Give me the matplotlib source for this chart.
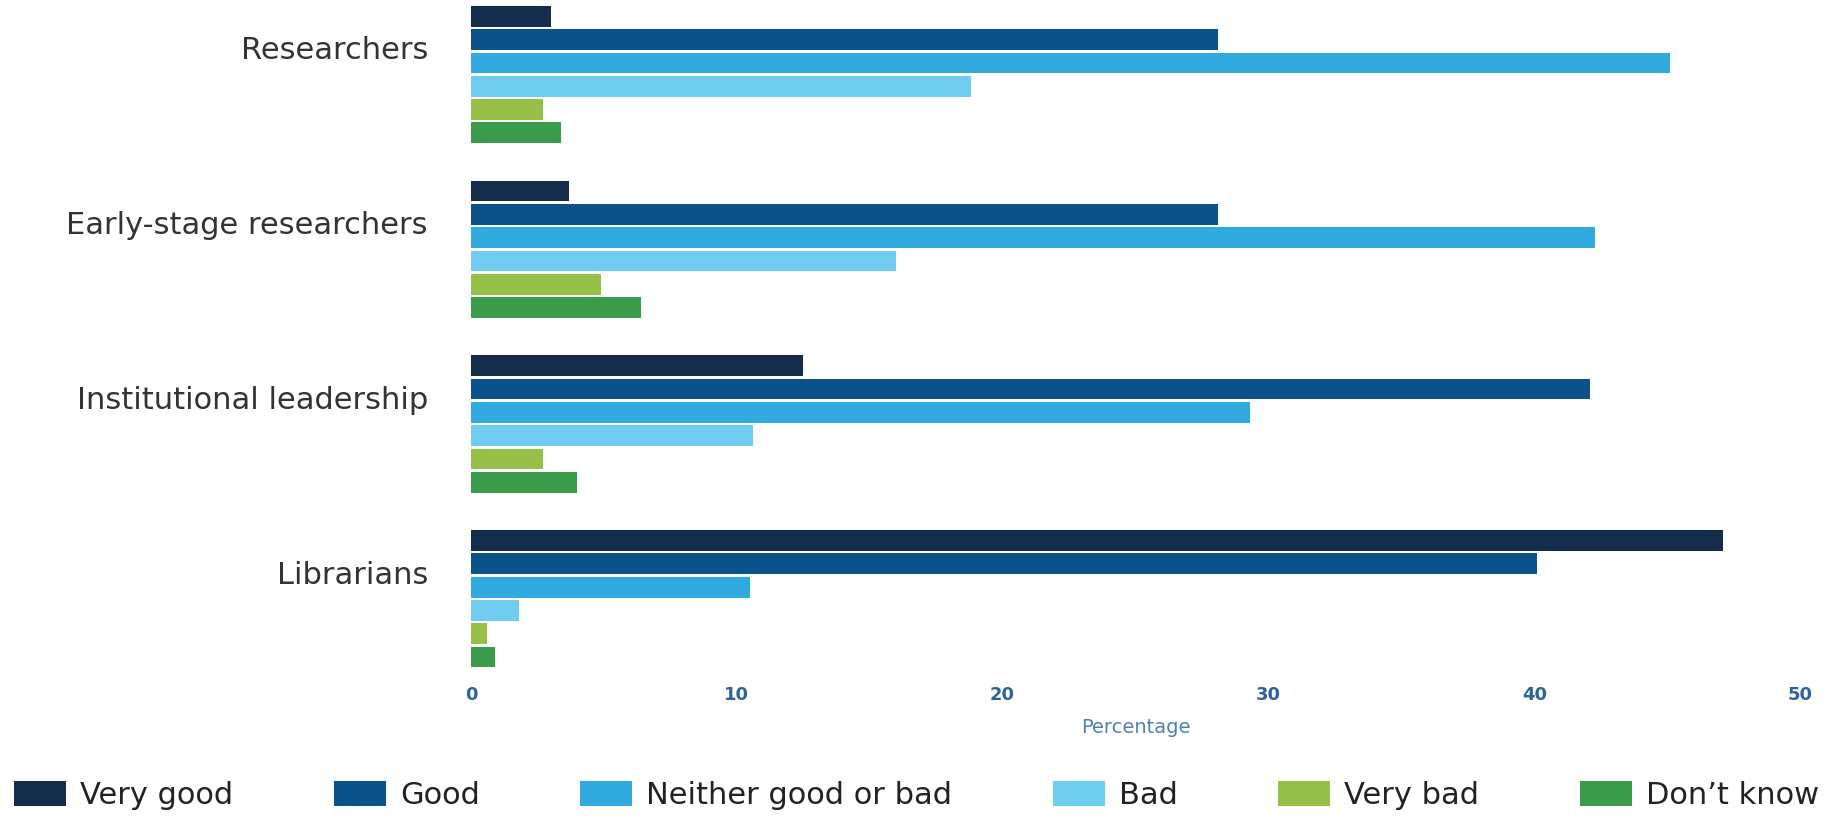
import numpy as np
import matplotlib
matplotlib.use("Agg")
import matplotlib.pyplot as plt

groups = ["Researchers", "Early-stage researchers", "Institutional leadership", "Librarians"]
series = ["Very good", "Good", "Neither good or bad", "Bad", "Very bad", "Don\u2019t know"]
colors = ["#142d4c", "#0b528b", "#31aadf", "#70cdf1", "#95bf47", "#3a9c4b"]

very_good = [3.0, 3.7, 12.5, 47.1]
good = [28.1, 28.1, 42.1, 40.1]
neither = [45.1, 42.3, 29.3, 10.5]
bad = [18.8, 16.0, 10.6, 1.8]
very_bad = [2.7, 4.9, 2.7, 0.6]
dont_know = [3.4, 6.4, 4.0, 0.9]

values = [very_good, good, neither, bad, very_bad, dont_know]

plt.rcParams["font.family"] = ["DejaVu Sans"]

W, H = 1842, 817
fig = plt.figure(figsize=(W / 100, H / 100), dpi=100)

# axes placed in pixel terms of the reference
left_px, right_px = 471, 1800
top_px, bottom_px = 3, 675
ax = fig.add_axes([left_px / W, 1 - bottom_px / H,
                   (right_px - left_px) / W, (bottom_px - top_px) / H])

group_step = 7.5
bar_h = 0.89
for i, (name, vals, col) in enumerate(zip(series, values, colors)):
    ypos = np.arange(len(groups)) * group_step + i
    ax.barh(ypos, vals, height=bar_h, color=col, label=name, linewidth=0)

last = (len(groups) - 1) * group_step + len(series) - 1
ax.set_ylim(last + 0.77, -0.573)
ax.set_xlim(0, 50)

ax.set_yticks(np.arange(len(groups)) * group_step + 1.35)
ax.set_yticklabels(groups, fontsize=22, color="#333333")
ax.tick_params(axis="y", length=0, pad=31)

ax.set_xticks([0, 10, 20, 30, 40, 50])
ax.tick_params(axis="x", length=0, pad=8, labelsize=13, labelcolor="#2f6399")
for lab in ax.get_xticklabels():
    lab.set_fontweight("bold")

ax.set_xlabel("Percentage", fontsize=14, color="#4f81b5", labelpad=10)

for s in ax.spines.values():
    s.set_visible(False)

fig.legend(loc="center", bbox_to_anchor=(0.4976, 1 - 795.5 / H), ncol=6,
           frameon=False, fontsize=22, handlelength=1.7, handleheight=0.85,
           handletextpad=0.45, columnspacing=3.3, borderpad=0,
           labelcolor="#222222")

fig.savefig("out.png", dpi=100)
